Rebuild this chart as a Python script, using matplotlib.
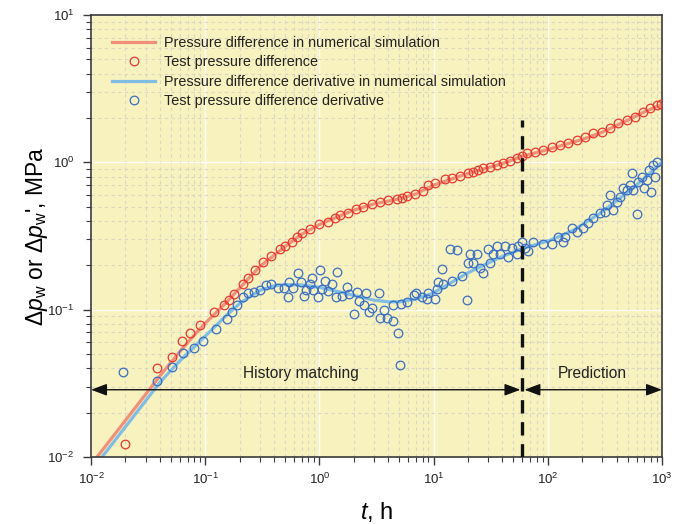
import matplotlib
matplotlib.use("Agg")
import matplotlib.pyplot as plt
from matplotlib.ticker import LogLocator, NullFormatter

plt.rcParams['font.family'] = ['Liberation Sans', 'DejaVu Sans']
plt.rcParams['mathtext.fontset'] = 'custom'
plt.rcParams['mathtext.rm'] = 'Liberation Sans'
plt.rcParams['mathtext.it'] = 'Liberation Sans:italic'
plt.rcParams['mathtext.default'] = 'regular'

# ---------------- data ----------------
sim_p_t = [0.0113, 0.02, 0.04, 0.06, 0.08, 0.1, 0.15, 0.2, 0.3, 0.5, 0.7, 1.0, 1.5, 2, 3, 5,
           7, 10, 20, 40, 60, 100, 200, 300, 500, 700, 1000]
sim_p = [0.01, 0.0177, 0.0354, 0.052, 0.067, 0.081, 0.110, 0.140, 0.196, 0.268, 0.325, 0.378,
         0.432, 0.473, 0.522, 0.565, 0.61, 0.70, 0.84, 0.98, 1.10, 1.22, 1.43, 1.60, 1.93, 2.2, 2.47]

sim_d_t = [0.0125, 0.02, 0.04, 0.06, 0.1, 0.15, 0.2, 0.3, 0.4, 0.5, 0.7, 1.0, 1.5, 2, 3, 4, 5,
           7, 10, 20, 38, 60, 104, 167, 286, 556, 1000]
sim_d = [0.01, 0.016, 0.032, 0.045, 0.066, 0.09, 0.11, 0.135, 0.145, 0.148, 0.147, 0.142,
         0.132, 0.125, 0.116, 0.113, 0.113, 0.118, 0.13, 0.178, 0.226, 0.26, 0.295, 0.345,
         0.45, 0.666, 1.0]

test_p_t = [0.020, 0.038, 0.051, 0.062, 0.074, 0.090, 0.12, 0.147, 0.163, 0.18, 0.215, 0.238,
            0.274, 0.322, 0.378, 0.454, 0.50, 0.578, 0.64, 0.706, 0.83, 0.99, 1.19, 1.37,
            1.52, 1.78, 2.10, 2.41, 2.89, 3.40, 3.99, 4.78, 5.29, 5.86, 6.88, 8.09, 8.93,
            10.3, 12.6, 14.5, 17.0, 20.0, 22.1, 24.5, 27.1, 31.2, 35.9, 40.5, 46.6, 53.7,
            59.4, 65.7, 77.2, 90.6, 108.6, 127.6, 150, 180, 211, 248, 297, 349, 410, 492,
            578, 679, 782, 901, 980]
test_p = [0.0123, 0.040, 0.048, 0.061, 0.069, 0.079, 0.096, 0.107, 0.117, 0.128, 0.150, 0.165,
          0.187, 0.209, 0.230, 0.260, 0.272, 0.286, 0.309, 0.329, 0.350, 0.379, 0.391, 0.416,
          0.436, 0.450, 0.479, 0.494, 0.518, 0.535, 0.551, 0.560, 0.569, 0.587, 0.606, 0.635,
          0.698, 0.720, 0.766, 0.778, 0.803, 0.842, 0.855, 0.882, 0.910, 0.925, 0.954, 0.984,
          1.016, 1.065, 1.099, 1.152, 1.17, 1.207, 1.265, 1.305, 1.347, 1.412, 1.479, 1.575,
          1.60, 1.70, 1.84, 1.93, 2.02, 2.19, 2.33, 2.44, 2.47]

test_d_t = [0.019, 0.038, 0.051, 0.064, 0.079, 0.096, 0.125, 0.156, 0.172, 0.191, 0.215, 0.238,
            0.268, 0.303, 0.342, 0.378, 0.435, 0.491, 0.532, 0.543, 0.589, 0.651, 0.692, 0.735,
            0.766, 0.83, 0.863, 0.881, 0.975, 1.01, 1.06, 1.12, 1.19, 1.29, 1.40, 1.43, 1.58,
            1.75, 1.82, 2.01, 2.14, 2.23, 2.46, 2.57, 2.72, 2.89, 3.33, 3.40, 3.68, 3.91, 4.41,
            4.45, 4.88, 5.08, 5.19, 5.85, 6.74, 7.02, 7.92, 8.76, 8.93, 10.3, 10.7, 10.9,
            11.9, 12.1, 13.9, 14.5, 16.0, 17.7, 19.6, 20.0, 20.8, 22.1, 24.0, 25.5, 27.1, 29.9,
            31.2, 33.1, 35.9, 38.1, 42.2, 44.8, 48.5, 53.7, 54.8, 59.4, 63.1, 67.0, 74.1, 90.6,
            108.6, 122.5, 135.6, 141, 163, 180, 203, 225, 248, 286, 316, 329, 350, 372, 403,
            428, 454, 492, 523, 545, 556, 603, 615, 667, 694, 738, 768, 799, 832, 867, 902]
test_d = [0.038, 0.033, 0.041, 0.051, 0.055, 0.061, 0.074, 0.086, 0.097, 0.107, 0.121, 0.129,
          0.131, 0.137, 0.148, 0.150, 0.141, 0.141, 0.121, 0.155, 0.141, 0.176, 0.155, 0.123,
          0.137, 0.150, 0.165, 0.135, 0.121, 0.187, 0.139, 0.157, 0.133, 0.150, 0.121, 0.179,
          0.123, 0.143, 0.127, 0.094, 0.131, 0.115, 0.107, 0.129, 0.097, 0.103, 0.129, 0.088,
          0.099, 0.088, 0.084, 0.108, 0.069, 0.042, 0.110, 0.113, 0.125, 0.129, 0.121, 0.119,
          0.129, 0.119, 0.139, 0.153, 0.190, 0.150, 0.260, 0.157, 0.256, 0.168, 0.117, 0.206,
          0.240, 0.206, 0.237, 0.193, 0.176, 0.260, 0.206, 0.240, 0.272, 0.240, 0.272, 0.226,
          0.264, 0.237, 0.272, 0.286, 0.264, 0.252, 0.286, 0.281, 0.281, 0.309, 0.286, 0.309,
          0.361, 0.334, 0.356, 0.385, 0.416, 0.450, 0.457, 0.510, 0.597, 0.472, 0.535, 0.578,
          0.666, 0.645, 0.698, 0.842, 0.645, 0.443, 0.731, 0.791, 0.666, 0.755, 0.882, 0.625,
          0.954, 0.791, 1.0]

split_t = 60
arrow_y = 0.0286
label_y = 0.0367
dash_top = 1.93

labels = ['Pressure difference in numerical simulation',
          'Test pressure difference',
          'Pressure difference derivative in numerical simulation',
          'Test pressure difference derivative']

# ---------------- figure ----------------
fig = plt.figure(figsize=(6.88, 5.24), dpi=100)
ax = fig.add_axes([0.1323, 0.1279, 0.8299, 0.8435])
ax.set_facecolor('#F8F2BF')

ax.set_xscale('log')
ax.set_yscale('log')
ax.set_xlim(0.01, 1000)
ax.set_ylim(0.01, 10)

ax.xaxis.set_minor_locator(LogLocator(base=10, subs=range(2, 10), numticks=20))
ax.yaxis.set_minor_locator(LogLocator(base=10, subs=range(2, 10), numticks=20))
ax.xaxis.set_minor_formatter(NullFormatter())
ax.yaxis.set_minor_formatter(NullFormatter())

ax.grid(which='major', color='#FFFFFF', linestyle='-', linewidth=1.0, alpha=0.9)
ax.grid(which='minor', color='#D9D6C4', linestyle=(0, (3, 3)), linewidth=0.8)
ax.set_axisbelow(True)

red_line = '#F0907A'
blue_line = '#80BDE3'
red_pt = '#E8382E'
blue_pt = '#3A6EC2'

l1, = ax.plot(sim_p_t, sim_p, color=red_line, lw=2.3, zorder=2)
l3, = ax.plot(sim_d_t, sim_d, color=blue_line, lw=2.3, zorder=2)
l2, = ax.plot(test_p_t, test_p, ls='none', marker='o', ms=6.2, mfc='none', mec=red_pt,
              mew=0.9, zorder=3)
l4, = ax.plot(test_d_t, test_d, ls='none', marker='o', ms=6.2, mfc='none', mec=blue_pt,
              mew=0.9, zorder=3)

ax.plot([split_t, split_t], [0.01, dash_top], color='#111111', lw=2.4,
        ls=(0, (4, 2.6)), zorder=4)

arrow_kw = dict(arrowstyle='<|-|>,head_length=0.8,head_width=0.3', color='#111111',
                lw=1.0, shrinkA=0, shrinkB=0, mutation_scale=12)
ax.annotate('', xy=(0.01, arrow_y), xytext=(split_t * 0.96, arrow_y),
            arrowprops=arrow_kw, zorder=5, annotation_clip=False)
ax.annotate('', xy=(1000, arrow_y), xytext=(split_t * 1.04, arrow_y),
            arrowprops=arrow_kw, zorder=5, annotation_clip=False)
ax.text(0.69, label_y, 'History matching', ha='center', va='center', fontsize=11.2,
        color='#222222')
ax.text(245, label_y, 'Prediction', ha='center', va='center', fontsize=11.2,
        color='#222222')

for s in ax.spines.values():
    s.set_color('#3a3a3a')
    s.set_linewidth(1.2)
ax.tick_params(which='both', direction='out', colors='#3a3a3a', labelcolor='#222222',
               top=False, right=False)
ax.tick_params(which='major', length=6, width=1.0, labelsize=9.5, pad=5)
ax.tick_params(which='minor', length=3.5, width=0.8)
ax.tick_params(axis='y', which='major', pad=6)

ax.set_xlabel(r'$\it{t}$, h', fontsize=17, labelpad=9)
ax.set_ylabel(r"$\Delta\it{p}_{\rm w}$ or $\Delta\it{p}_{\rm w}$', MPa", fontsize=16.5)
ax.yaxis.set_label_coords(-0.072, 0.5)

leg = ax.legend([l1, l2, l3, l4], labels, loc='upper left', bbox_to_anchor=(0.037, 0.952),
                frameon=False, fontsize=10.4, handlelength=3.0, handletextpad=0.6,
                labelspacing=0.36, borderpad=0, borderaxespad=0)
for t in leg.get_texts():
    t.set_color('#222222')

fig.savefig('out.png', dpi=100)
